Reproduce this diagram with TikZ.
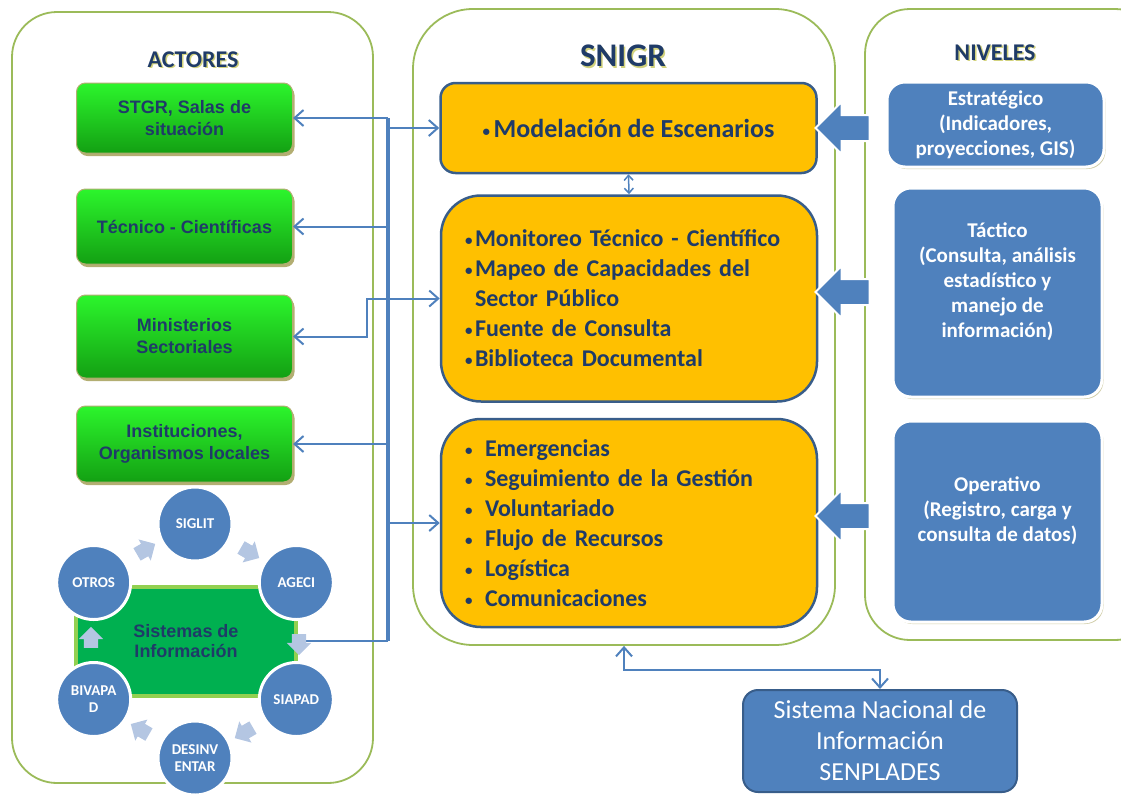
\documentclass[tikz,border=0pt]{standalone}
\usepackage{fontspec}
\setmainfont{Carlito}
\newfontfamily\arialfont{Liberation Sans}
\usetikzlibrary{positioning,arrows.meta,shapes.arrows,shadows}

\definecolor{panelgreen}{HTML}{9BBB59}
\definecolor{boxblue}{HTML}{4F81BD}
\definecolor{edgeblue}{HTML}{385D8A}
\definecolor{navy}{HTML}{1F3B68}
\definecolor{amber}{HTML}{FFC000}
\definecolor{palearrow}{HTML}{B4C6E2}
\definecolor{limetop}{HTML}{2CF52C}
\definecolor{limebot}{HTML}{13A013}
\definecolor{tanedge}{HTML}{B3AE72}
\definecolor{sisgreen}{HTML}{00B050}
\definecolor{sisedge}{HTML}{92D050}
\definecolor{titleshade}{HTML}{D3D37E}

\newcommand{\shadetitle}[1]{\makebox[0pt][l]{\hspace{1.5pt}\raisebox{-1.5pt}{\color{titleshade}#1}}#1}
\newcommand{\vineta}[1]{\makebox[#1][l]{\fontsize{15}{15}\selectfont\raisebox{1pt}{•}}}

\tikzset{
  panel/.style={draw=panelgreen, line width=1.8pt, rounded corners=45pt},
  title/.style={text=navy, font=\bfseries\fontsize{24}{28}\selectfont},
  actor/.style={rounded corners=9pt, minimum width=216pt, draw=tanedge, line width=1pt,
    top color=limetop, bottom color=limebot, text=navy, align=center,
    font=\arialfont\bfseries\fontsize{18}{22}\selectfont,
    drop shadow={shadow xshift=2pt, shadow yshift=-3pt, fill=tanedge, opacity=1}},
  module/.style={fill=amber, draw=edgeblue, line width=2.5pt, minimum width=376pt,
    text=navy, font=\bfseries\fontsize{24}{30}\selectfont},
  nivel/.style={fill=boxblue, draw=white, line width=3pt, rounded corners=18pt,
    text=white, align=center, font=\bfseries\fontsize{21}{25}\selectfont,
    drop shadow={shadow xshift=1.5pt, shadow yshift=-2pt, fill=tanedge, opacity=.6}},
  fatarrow/.style={single arrow, shape border rotate=180, fill=boxblue, draw=white,
    line width=2pt, minimum height=54pt, minimum width=50pt, inner xsep=0pt, inner ysep=12pt,
    single arrow head extend=13pt},
  sistema/.style={circle, fill=boxblue, draw=white, line width=3pt, minimum size=74pt,
    inner sep=0pt, text=white, align=center, font=\bfseries\fontsize{15}{17}\selectfont},
  cyclearrow/.style={single arrow, fill=palearrow, minimum height=21pt, minimum width=24pt,
    inner xsep=0pt, inner ysep=7pt, single arrow head extend=5pt},
  link/.style={draw=boxblue, line width=2pt, -{Straight Barb[length=9pt,width=16pt]}},
  bus/.style={draw=boxblue, line width=3.5pt},
}

\begin{document}
\begin{tikzpicture}[x=1pt, y=-1pt]
\useasboundingbox (0,0) rectangle (1121,793);
\clip (0,0) rectangle (1121,793);

% panels
\node[panel, minimum width=361pt, minimum height=771pt] (actorpanel) at (192.5,397.5) {};
\node[panel, minimum width=422pt, minimum height=636pt, rounded corners=60pt] (snigrpanel) at (624,327) {};
\node[panel, minimum width=295pt, minimum height=631pt] (nivelpanel) at (1012.5,324.5) {};

\node[title] (actores) at (193,60) {\shadetitle{ACTORES}};
\node[title, font=\bfseries\fontsize{33}{36}\selectfont] (snigr) at (623,57) {\shadetitle{SNIGR}};
\node[title] (niveles) at (995,53) {\shadetitle{NIVELES}};

% actores
\node[actor, minimum height=70pt] (stgr) at (184.5,118) {STGR, Salas de\\situación};
\node[actor, minimum height=75pt, below=35pt of stgr] (tecnico) {Técnico - Científicas};
\node[actor, minimum height=83pt, below=30pt of tecnico] (ministerios) {Ministerios\\Sectoriales};
\node[actor, minimum height=76pt, below=27pt of ministerios] (instituciones) {Instituciones,\\Organismos locales};

% modulos
\node[module, minimum height=90pt, rounded corners=15pt] (modelacion) at (628.5,128)
  {\fontsize{26}{30}\selectfont\vineta{11pt}Modelación de Escenarios};
\node[module, minimum height=206pt, rounded corners=40pt, text width=328pt, align=left] (monitoreo) at (629,298.5)
  {\vineta{10pt}Monitoreo Técnico - Científico\\
   \vineta{10pt}Mapeo de Capacidades del\\
   \makebox[10pt][l]{}Sector Público\\
   \vineta{10pt}Fuente de Consulta\\
   \vineta{10pt}Biblioteca Documental};
\node[module, minimum height=208pt, rounded corners=40pt, text width=328pt, align=left] (emergencias) at (629,523)
  {\vineta{20pt}Emergencias\\
   \vineta{20pt}Seguimiento de la Gestión\\
   \vineta{20pt}Voluntariado\\
   \vineta{20pt}Flujo de Recursos\\
   \vineta{20pt}Logística\\
   \vineta{20pt}Comunicaciones};
\draw[draw=boxblue, line width=1.5pt, {Straight Barb[length=5pt,width=9pt]}-{Straight Barb[length=5pt,width=9pt]}]
  (modelacion.south) -- (monitoreo.north);

% niveles
\node[nivel, minimum width=217pt, minimum height=85pt] (estrategico) at (995.5,124.5)
  {Estratégico\\(Indicadores,\\proyecciones, GIS)};
\node[nivel, minimum width=209pt, minimum height=209pt] (tactico) at (997.5,292.5)
  {Táctico\\(Consulta, análisis\\estadístico y\\manejo de\\información)\\~};
\node[nivel, minimum width=209pt, minimum height=201pt] (operativo) at (997.5,521.5)
  {Operativo\\(Registro, carga y\\consulta de datos)\\~};
\node[fatarrow] (flecha1) at (849,128) {};
\node[fatarrow] (flecha2) at (849,292) {};
\node[fatarrow] (flecha3) at (849,516) {};

% SENPLADES
\node[fill=boxblue, draw=edgeblue, line width=2pt, rounded corners=15pt, minimum width=274pt,
  minimum height=102pt, text=white, align=center, font=\fontsize{26}{31}\selectfont] (senplades) at (880,741)
  {Sistema Nacional de\\Información\\SENPLADES};
\draw[link, {Straight Barb[length=9pt,width=16pt]}-{Straight Barb[length=9pt,width=16pt]}]
  (snigrpanel.south) -- ++(0,24) -| (senplades.north);

% sistemas de informacion
\node[fill=sisgreen, draw=sisedge, line width=4pt, minimum width=220pt, minimum height=109pt,
  text=navy, align=center, font=\arialfont\bfseries\fontsize{18}{20}\selectfont] (sistemas) at (186,641)
  {Sistemas de\\Información};

% conexiones
\coordinate (trunktop) at (388,118);
\coordinate (trunkbot) at (388,641);
\draw[bus] (trunktop) -- (trunkbot);
\draw[link] (trunktop) -- (stgr.east);
\draw[link] (trunktop |- modelacion.west) -- (modelacion.west);
\draw[link] (trunktop |- tecnico.east) -- (tecnico.east);
\draw[link] (trunktop |- monitoreo.west) -- (monitoreo.west);
\draw[link] (trunktop |- monitoreo.west) -- ++(-21,0) |- (ministerios.east);
\draw[link] (trunktop |- instituciones.east) -- (instituciones.east);
\draw[link] (trunktop |- emergencias.west) -- (emergencias.west);
\draw[bus, line width=2pt] (trunkbot) -- (sistemas.east);

% ciclo
\begin{scope}[shift={(195,641)}]
  \foreach \key/\txt/\ang in {siglit/SIGLIT/-90, ageci/AGECI/-30, siapad/SIAPAD/30,
      desinventar/{DESINV\\ENTAR}/90, bivapad/{BIVAPA\\D}/150, otros/OTROS/210}
    \node[sistema] (\key) at (\ang:117) {\txt};
  \foreach \ang in {-120,-60,0,60,120,180}
    \node[cyclearrow, rotate={-90-(\ang)}] at (\ang:104) {};
\end{scope}
\end{tikzpicture}
\end{document}
